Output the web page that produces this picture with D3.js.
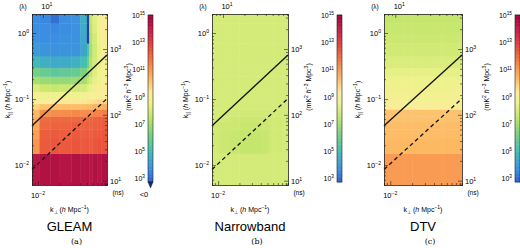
<!DOCTYPE html>
<html>
<head>
<meta charset="utf-8">
<script src="https://cdn.jsdelivr.net/npm/d3@7"></script>
<style>
  body { margin: 0; background: #fff; }
  svg { display: block; font-family: "Liberation Sans", Arial, sans-serif; }
</style>
</head>
<body>
<svg id="fig" width="520" height="248"></svg>
<script>
// ---- data (log10 of power in mK^2 h^-3 Mpc^3; null = negative) ----
var kperpEdges = [0.0082, 0.0105, 0.015, 0.02, 0.03, 0.04, 0.05, 0.054, 0.06, 0.07, 0.08, 0.097];
var kparEdges = [0.005, 0.015, 0.025, 0.035, 0.045, 0.055, 0.07, 0.085, 0.1, 0.13, 0.17,
                 0.22, 0.3, 0.45, 0.7, 1.0, 1.4, 1.94];

// rows go bottom (low k||) to top, columns left to right in k_perp
var gleamPower = [
  [14.2, 14.4, 14.4, 14.3, 14.4, 14.3, 14.4, 14.3, 14.4, 14.3, 14.4],
  [11.0, 12.3, 12.4, 12.3, 12.4, 12.3, 12.4, 12.3, 12.4, 12.5, 12.4],
  [10.8, 12.2, 12.3, 12.2, 12.3, 12.2, 12.3, 12.2, 12.3, 12.3, 12.4],
  [10.6, 12.0, 12.1, 12.1, 12.2, 12.1, 12.2, 12.1, 12.2, 12.2, 12.3],
  [10.5, 11.9, 12.0, 12.0, 12.0, 12.0, 12.1, 12.1, 12.1, 12.2, 12.2],
  [10.3, 11.1, 11.2, 11.2, 11.3, 11.2, 11.3, 11.3, 11.4, 11.4, 11.5],
  [9.8, 10.1, 10.2, 10.2, 10.2, 10.2, 10.3, 10.3, 10.4, 10.4, 10.5],
  [9.2, 9.3, 9.3, 9.4, 9.4, 9.4, 9.5, 9.5, 9.6, 9.7, 9.8],
  [8.8, 8.5, 8.5, 8.6, 8.6, 8.7, 8.8, 8.9, 9.0, 9.1, 9.3],
  [8.0, 7.7, 7.6, 7.7, 7.8, 7.9, 8.2, 8.4, 8.6, 8.8, 9.1],
  [7.0, 6.8, 6.7, 6.7, 6.8, 7.0, 7.5, 7.9, 8.3, 8.6, 9.0],
  [6.1, 5.8, 5.6, 5.7, 5.8, 6.2, 6.9, 7.5, 8.1, 8.5, 8.9],
  [4.8, 4.5, 4.4, 4.4, 4.6, 5.0, 6.0, 7.2, 7.9, 8.4, 8.9],
  [3.9, 3.8, 3.7, 3.8, 3.8, 4.2, 5.2, 7.0, 7.8, 8.4, 9.0],
  [3.7, 3.6, 3.6, 3.7, 3.7, 4.3, null, 7.2, 7.9, 8.6, 9.1],
  [3.6, 3.6, 3.5, 3.6, 3.7, 4.4, null, 7.4, 8.1, 8.7, 9.2],
  [3.6, 3.5, 3.0, 3.6, 3.7, 4.5, null, 7.5, 8.2, 8.8, 9.3]
];

var narrowPower = [
  [7.9, 7.9, 7.9, 7.9, 7.9, 7.9, 7.9, 7.9, 7.9, 7.9, 7.9],
  [7.8, 7.7, 7.6, 7.5, 7.5, 7.6, 7.7, 7.8, 7.8, 7.8, 7.9],
  [7.8, 7.7, 7.6, 7.5, 7.5, 7.6, 7.7, 7.8, 7.8, 7.8, 7.9],
  [7.8, 7.7, 7.7, 7.6, 7.6, 7.7, 7.7, 7.8, 7.8, 7.8, 7.9],
  [7.8, 7.8, 7.7, 7.7, 7.7, 7.7, 7.8, 7.8, 7.8, 7.8, 7.9],
  [7.9, 7.8, 7.8, 7.8, 7.8, 7.8, 7.8, 7.8, 7.9, 7.9, 7.9],
  [7.9, 7.9, 7.9, 7.9, 7.9, 7.9, 7.9, 7.9, 7.9, 7.9, 7.9],
  [7.9, 7.9, 7.9, 7.9, 7.9, 7.9, 7.9, 7.9, 7.9, 7.9, 7.9],
  [7.9, 7.9, 7.9, 7.9, 7.9, 7.9, 7.9, 7.9, 7.9, 7.9, 7.9],
  [7.9, 7.9, 7.9, 7.9, 7.9, 7.9, 7.9, 7.9, 7.9, 7.9, 7.9],
  [7.9, 7.9, 7.9, 7.9, 7.9, 7.9, 7.9, 7.9, 7.9, 7.9, 7.9],
  [7.9, 7.9, 7.9, 7.9, 7.9, 7.9, 7.9, 7.9, 7.9, 7.9, 7.9],
  [7.9, 7.9, 7.9, 7.9, 7.9, 7.9, 7.9, 7.9, 7.9, 7.9, 7.9],
  [7.9, 7.9, 7.9, 7.9, 7.9, 7.9, 7.9, 7.9, 7.9, 7.9, 7.9],
  [7.9, 7.9, 7.9, 7.9, 7.9, 7.9, 7.9, 7.9, 7.9, 7.9, 7.9],
  [7.9, 7.9, 7.9, 7.9, 7.9, 7.9, 7.9, 7.9, 7.9, 7.9, 7.9],
  [7.9, 7.9, 7.9, 7.9, 7.9, 7.9, 7.9, 7.9, 7.9, 7.9, 7.9]
];

// DTV is mostly banded in k||, one value per row
var dtvRowPower = [10.9, 10.3, 10.2, 10.2, 10.1, 10.1, 9.1, 8.9, 8.7, 8.6, 8.5,
                   8.3, 8.0, 7.8, 7.7, 7.6, 7.5];

var kparTicks = [0.01, 0.1, 1];
var kperpTicks = [0.01];
var delayTicks = [10, 100, 1000];
var lambdaTicks = [10];
var cbarTicks = [3, 5, 7, 9, 11, 13, 15];
var horizonSlope = 4.8;   // solid line, k|| = slope * k_perp
var beamSlope = 1.05;     // dashed line
var panelTitles = ["GLEAM", "Narrowband", "DTV"];
var panelTags = ["(a)", "(b)", "(c)"];

// ---- layout ----
var kperpDomain = [0.0082, 0.097];
var kparDomain = [0.005, 1.94];
var delayDomain = [8.6, 3400];
var lambdaDomain = [7, 82];

var panels = [
  {x0: 32,  x1: 107, cb: 148, cbLab: 131, ylab: 10,  power: gleamPower, neg: true},
  {x0: 212, x1: 288, cb: 337, cbLab: 311, ylab: 188, power: narrowPower, neg: false},
  {x0: 384, x1: 462, cb: 515, cbLab: 489, ylab: 360,
   power: dtvRowPower.map(function(v) { return kperpEdges.slice(1).map(function() { return v; }); }),
   neg: false}
];
var plotTop = 14, plotBottom = 185;
var cbTop = 15, cbBottom = 182;

var svg = d3.select("#fig");
var negColor = "#2440a8";

// spectral-like map, blue at the low end, crimson at the top
var colourMap = d3.scaleLinear()
  .domain([2.72, 3.6, 5.0, 6.3, 7.5, 8.5, 9.3, 10.3, 11.3, 12.4, 13.5, 15])
  .range(["#2e62d0", "#3b8ee2", "#44bfb4", "#7fd27c", "#c4e66c", "#eef28c",
          "#fdeb9c", "#fdb862", "#f68848", "#ea553c", "#d02a48", "#9e0142"])
  .clamp(true);
function colour(lp) {
  if (lp === null) return negColor;
  return colourMap(lp);
}

// text with a superscript
function supText(g, x, y, base, exp, anchor, size) {
  var t = g.append("text").attr("x", x).attr("y", y)
    .attr("font-size", size).attr("text-anchor", anchor || "start");
  t.append("tspan").text(base);
  t.append("tspan").attr("dy", -size * 0.4).attr("font-size", size * 0.68).text(exp);
  return t;
}

function expOf(v) { return String(Math.round(Math.log10(v))).replace("-", "\u2212"); }

panels.forEach(function(p, pi) {
  var g = svg.append("g");

  var x = d3.scaleLog().domain(kperpDomain).range([p.x0, p.x1]);
  var y = d3.scaleLog().domain(kparDomain).range([plotBottom, plotTop]);
  var yr = d3.scaleLog().domain(delayDomain).range([plotBottom, plotTop]);
  var xt = d3.scaleLog().domain(lambdaDomain).range([p.x0, p.x1]);

  // heat map cells
  p.power.forEach(function(row, i) {
    g.selectAll(null).data(row).enter().append("rect")
      .attr("x", function(d, j) { return x(kperpEdges[j]); })
      .attr("y", y(kparEdges[i + 1]))
      .attr("width", function(d, j) { return x(kperpEdges[j + 1]) - x(kperpEdges[j]) + 0.4; })
      .attr("height", y(kparEdges[i]) - y(kparEdges[i + 1]) + 0.4)
      .attr("fill", function(d) { return colour(d); });
  });

  // horizon and beam lines
  var line = d3.line().x(function(d) { return x(d[0]); }).y(function(d) { return y(d[1]); });
  g.append("path")
    .datum(kperpDomain.map(function(k) { return [k, k * horizonSlope]; }))
    .attr("d", line).attr("stroke", "#111").attr("stroke-width", 1.3).attr("fill", "none");
  g.append("path")
    .datum(kperpDomain.map(function(k) { return [k, k * beamSlope]; }))
    .attr("d", line).attr("stroke", "#111").attr("stroke-width", 1.3)
    .attr("stroke-dasharray", "4,3").attr("fill", "none");

  // axes (ticks pointing inward, like MATLAB)
  var fmt = function() { return ""; };
  g.append("g").attr("transform", "translate(0," + plotBottom + ")")
    .call(d3.axisTop(x).ticks(10, fmt).tickSize(2));
  g.append("g").attr("transform", "translate(0," + plotTop + ")")
    .call(d3.axisBottom(xt).ticks(10, fmt).tickSize(2));
  g.append("g").attr("transform", "translate(" + p.x0 + ",0)")
    .call(d3.axisRight(y).ticks(10, fmt).tickSize(2));
  g.append("g").attr("transform", "translate(" + p.x1 + ",0)")
    .call(d3.axisLeft(yr).ticks(10, fmt).tickSize(2));
  g.selectAll(".domain").attr("stroke", "#222").attr("stroke-width", 0.8);
  g.selectAll(".tick text").remove();
  g.selectAll(".tick line").attr("stroke", "#222").attr("stroke-width", 0.6);
  g.selectAll(".tick line").filter(function(d) {
    return Math.abs(Math.log10(d) - Math.round(Math.log10(d))) < 1e-6;
  }).attr("y2", function() { var v = d3.select(this).attr("y2"); return v ? v * 2 : null; })
    .attr("x2", function() { var v = d3.select(this).attr("x2"); return v ? v * 2 : null; });

  var fs = 7.5;
  kparTicks.forEach(function(v) {
    supText(g, p.x0 - 3, y(v) + 3, "10", expOf(v), "end", fs);
  });
  kperpTicks.forEach(function(v) {
    supText(g, x(v), plotBottom + 13, "10", expOf(v), "middle", fs);
  });
  delayTicks.forEach(function(v) {
    supText(g, p.x1 + 3, yr(v) + 3, "10", expOf(v), "start", fs);
  });
  lambdaTicks.forEach(function(v) {
    supText(g, xt(v) + 4, plotTop - 5, "10", expOf(v), "middle", fs);
  });
  g.append("text").attr("x", p.x0 - 9).attr("y", plotTop - 5).attr("font-size", 6.5)
    .attr("text-anchor", "middle").text("(\u03bb)");
  g.append("text").attr("x", p.x1 + 11).attr("y", plotBottom + 10).attr("font-size", 6.5)
    .attr("text-anchor", "middle").text("(ns)");

  // axis labels
  var xl = g.append("text").attr("x", (p.x0 + p.x1) / 2).attr("y", plotBottom + 27)
    .attr("font-size", 7).attr("text-anchor", "middle");
  xl.append("tspan").text("k");
  xl.append("tspan").attr("font-size", 5).attr("dy", 1.5).text("\u22a5");
  xl.append("tspan").attr("dy", -1.5).text(" (");
  xl.append("tspan").attr("font-style", "italic").text("h");
  xl.append("tspan").text(" Mpc");
  xl.append("tspan").attr("font-size", 5).attr("dy", -3).text("\u22121");
  xl.append("tspan").attr("dy", 3).text(")");

  var yl = g.append("text")
    .attr("transform", "translate(" + p.ylab + "," + ((plotTop + plotBottom) / 2) + ") rotate(-90)")
    .attr("font-size", 7).attr("text-anchor", "middle");
  yl.append("tspan").text("k");
  yl.append("tspan").attr("font-size", 5).attr("dy", 1.5).text("||");
  yl.append("tspan").attr("dy", -1.5).text(" (");
  yl.append("tspan").attr("font-style", "italic").text("h");
  yl.append("tspan").text(" Mpc");
  yl.append("tspan").attr("font-size", 5).attr("dy", -3).text("\u22121");
  yl.append("tspan").attr("dy", 3).text(")");

  var cl = g.append("text")
    .attr("transform", "translate(" + p.cbLab + "," + 87 + ") rotate(-90)")
    .attr("font-size", 7).attr("text-anchor", "middle");
  cl.append("tspan").text("(mK");
  cl.append("tspan").attr("font-size", 5).attr("dy", -3).text("2");
  cl.append("tspan").attr("dy", 3).text(" ");
  cl.append("tspan").attr("font-style", "italic").text("h");
  cl.append("tspan").attr("font-size", 5).attr("dy", -3).text("\u22123");
  cl.append("tspan").attr("dy", 3).text(" Mpc");
  cl.append("tspan").attr("font-size", 5).attr("dy", -3).text("3");
  cl.append("tspan").attr("dy", 3).text(")");

  // colour bar
  var cy = d3.scaleLinear().domain([2.72, 15]).range([cbBottom, cbTop]);
  var steps = d3.range(0, 120).map(function(i) { return 2.72 + (15 - 2.72) * i / 120; });
  var cbw = 5;
  g.selectAll(null).data(steps).enter().append("rect")
    .attr("x", p.cb).attr("width", cbw)
    .attr("y", function(d) { return cy(d + (15 - 2.72) / 120) - 0.2; })
    .attr("height", (cbBottom - cbTop) / 120 + 0.5)
    .attr("fill", function(d) { return colour(d); });
  if (p.neg) {
    g.append("path")
      .attr("d", "M" + p.cb + "," + cbBottom + "L" + (p.cb + cbw) + "," + cbBottom +
                 "L" + (p.cb + cbw / 2) + "," + (cbBottom + 6) + "Z")
      .attr("fill", "#1a2a70").attr("stroke", "#222").attr("stroke-width", 0.5);
    g.append("text").attr("x", p.cb - 4).attr("y", cbBottom + 15).attr("font-size", 7.5)
      .attr("text-anchor", "middle").text("<0");
  }
  g.append("rect").attr("x", p.cb).attr("y", cbTop).attr("width", cbw)
    .attr("height", cbBottom - cbTop).attr("fill", "none")
    .attr("stroke", "#222").attr("stroke-width", 0.6);
  cbarTicks.forEach(function(v) {
    supText(g, p.cb - 3, cy(v) + 3, "10", String(v), "end", 7);
  });

  // titles
  g.append("text").attr("x", (p.x0 + p.x1) / 2).attr("y", 231).attr("font-size", 13)
    .attr("text-anchor", "middle").text(panelTitles[pi]);
  g.append("text").attr("x", (p.x0 + p.x1) / 2 + 7).attr("y", 244).attr("font-size", 8)
    .attr("font-family", "'DejaVu Serif', 'Liberation Serif', serif")
    .attr("text-anchor", "middle").text(panelTags[pi]);
});
</script>
</body>
</html>
